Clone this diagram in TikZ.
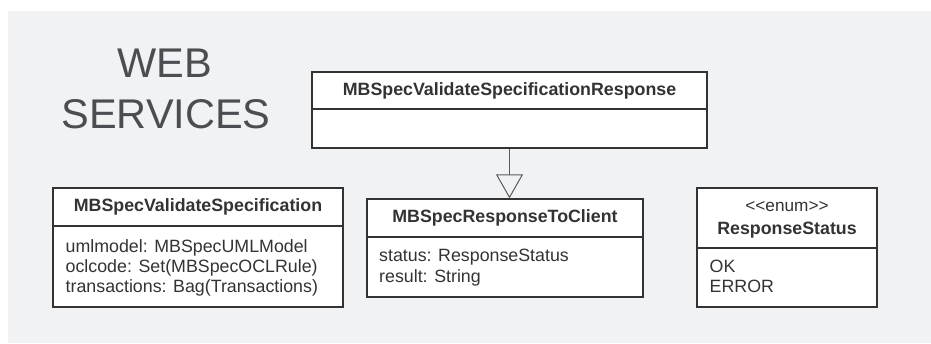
\documentclass[tikz,border=0pt]{standalone}
\usepackage{fontspec}
\setmainfont{Liberation Sans}
\newfontfamily\boxfont{Liberation Sans}
\newfontfamily\bigfont{Liberation Sans}
\usetikzlibrary{arrows.meta}
\definecolor{panel}{HTML}{F1F2F4}
\definecolor{ink}{HTML}{333333}
\definecolor{titleink}{HTML}{4A4D52}
\begin{document}
\begin{tikzpicture}[x=1pt,y=-1pt,
  umlbox/.style={draw=ink, line width=1.3pt, fill=white, rectangle, inner sep=0pt},
  divider/.style={draw=ink, line width=1.3pt},
  classname/.style={text=ink, inner sep=0pt, anchor=base, font=\boxfont\bfseries\fontsize{17.8}{20}\selectfont},
  stereo/.style={text=ink, inner sep=0pt, anchor=base, font=\boxfont\fontsize{17.2}{20}\selectfont},
  attr/.style={text=ink, inner sep=0pt, anchor=base west, font=\boxfont\fontsize{17.8}{20}\selectfont},
  bigtitle/.style={text=titleink, inner sep=0pt, anchor=base, font=\bigfont\fontsize{41.5}{51}\selectfont},
  inherit/.style={draw=ink!80, line width=1pt, -{Triangle[open, width=27pt, length=24pt, line width=1pt]}}
]
\useasboundingbox (0,0) rectangle (931,343);
\fill[panel] (8,11) rectangle (931,343);

% title
\node[bigtitle] (web) at (165,77) {WEB};
\node[bigtitle] (services) at (166,128) {SERVICES};

% MBSpecValidateSpecificationResponse
\node[umlbox, minimum width=395pt, minimum height=76pt] (resp) at (509.5,110) {};
\draw[divider] (resp.west |- 0,109) -- (resp.east |- 0,109);
\node[classname] (respname) at (509.5,95.4) {MBSpecValidateSpecificationResponse};

% MBSpecValidateSpecification
\node[umlbox, minimum width=290pt, minimum height=119pt] (val) at (198,247.5) {};
\draw[divider] (val.west |- 0,226) -- (val.east |- 0,226);
\node[classname] (valname) at (198,211.7) {MBSpecValidateSpecification};
\node[attr] (valattr1) at (65.5,252.5) {umlmodel: MBSpecUMLModel};
\node[attr] (valattr2) at (65.5,272.5) {oclcode: Set(MBSpecOCLRule)};
\node[attr] (valattr3) at (65.5,292.5) {transactions: Bag(Transactions)};

% MBSpecResponseToClient
\node[umlbox, minimum width=276pt, minimum height=98pt] (client) at (505,248) {};
\draw[divider] (client.west |- 0,237) -- (client.east |- 0,237);
\node[classname] (clientname) at (505,222) {MBSpecResponseToClient};
\node[attr] (clientattr1) at (379,261) {status: ResponseStatus};
\node[attr] (clientattr2) at (379,282) {result: String};

% ResponseStatus enum
\node[umlbox, minimum width=180pt, minimum height=119pt] (status) at (787,247.5) {};
\draw[divider] (status.west |- 0,248) -- (status.east |- 0,248);
\node[stereo] (statusstereo) at (787,211) {<<enum>>};
\node[classname] (statusname) at (787,234) {ResponseStatus};
\node[attr] (statusok) at (709.5,272.5) {OK};
\node[attr] (statuserror) at (709.5,292.5) {ERROR};

% generalization
\draw[inherit] (resp.south) -- (resp.south |- client.north);
\end{tikzpicture}
\end{document}
